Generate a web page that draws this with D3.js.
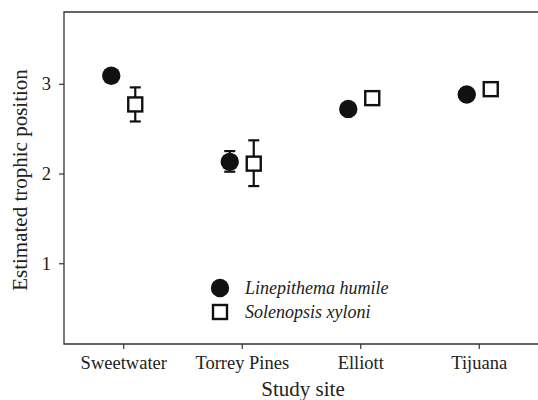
<!DOCTYPE html>
<html>
<head>
<meta charset="utf-8">
<script src="https://cdn.jsdelivr.net/npm/d3@7"></script>
<style>
  body { margin: 0; background: #fff; }
  svg { display: block; font-family: "Liberation Serif", "Times New Roman", serif; }
</style>
</head>
<body>
<svg width="538" height="400"></svg>
<script>
const sites = ["Sweetwater", "Torrey Pines", "Elliott", "Tijuana"];
const species = ["Linepithema humile", "Solenopsis xyloni"];
// mean and error bar ends, per site
const humileMean = [3.09, 2.13, 2.72, 2.88];
const humileLow = [3.09, 2.02, 2.72, 2.88];
const humileHigh = [3.09, 2.25, 2.72, 2.88];
const xyloniMean = [2.77, 2.11, 2.84, 2.94];
const xyloniLow = [2.58, 1.86, 2.84, 2.94];
const xyloniHigh = [2.96, 2.37, 2.84, 2.94];
const yTicks = [1, 2, 3];

const svg = d3.select("svg");
const plotLeft = 64, plotRight = 538, plotTop = 12, plotBottom = 344;

const x = d3.scalePoint().domain(sites).range([plotLeft, plotRight]).padding(0.5);
const y = d3.scaleLinear().domain([0.1, 3.8]).range([plotBottom, plotTop]);
const offset = 12;

// frame (no right border)
svg.append("path")
    .attr("d", `M${plotRight},${plotTop}H${plotLeft}V${plotBottom}H${plotRight}`)
    .attr("fill", "none")
    .attr("stroke", "#333")
    .attr("stroke-width", 1.3);

const xAxis = svg.append("g")
    .attr("transform", `translate(0,${plotBottom})`)
    .call(d3.axisBottom(x).tickSize(5).tickSizeOuter(0).tickPadding(7));
const yAxis = svg.append("g")
    .attr("transform", `translate(${plotLeft},0)`)
    .call(d3.axisLeft(y).tickValues(yTicks).tickFormat(d3.format("d")).tickSize(5).tickSizeOuter(0).tickPadding(8));

for (const g of [xAxis, yAxis]) {
    g.select(".domain").remove();
    g.selectAll("line").attr("stroke", "#333").attr("stroke-width", 1.2);
    g.selectAll("text")
        .attr("fill", "#222")
        .style("font-family", "Liberation Serif, serif")
        .style("font-size", "18.5px");
}

// axis titles
svg.append("text")
    .attr("x", (plotLeft + plotRight) / 2 + 2)
    .attr("y", 396)
    .attr("text-anchor", "middle")
    .attr("fill", "#222")
    .style("font-size", "21px")
    .text("Study site");
svg.append("text")
    .attr("transform", `translate(27,${(plotTop + plotBottom) / 2 + 2}) rotate(-90)`)
    .attr("text-anchor", "middle")
    .attr("fill", "#222")
    .style("font-size", "21px")
    .text("Estimated trophic position");

// error bars
function errorBars(lo, hi, dx) {
    const g = svg.append("g").attr("stroke", "#111").attr("stroke-width", 2.2);
    sites.forEach((s, i) => {
        if (hi[i] - lo[i] < 0.01) return;
        const cx = x(s) + dx;
        g.append("line").attr("x1", cx).attr("x2", cx).attr("y1", y(lo[i])).attr("y2", y(hi[i]));
        g.append("line").attr("x1", cx - 5.5).attr("x2", cx + 5.5).attr("y1", y(lo[i])).attr("y2", y(lo[i]));
        g.append("line").attr("x1", cx - 5.5).attr("x2", cx + 5.5).attr("y1", y(hi[i])).attr("y2", y(hi[i]));
    });
}
errorBars(humileLow, humileHigh, -offset);
errorBars(xyloniLow, xyloniHigh, offset);

// points
svg.append("g").selectAll("circle")
    .data(sites)
    .join("circle")
    .attr("cx", d => x(d) - offset)
    .attr("cy", (d, i) => y(humileMean[i]))
    .attr("r", 9.2)
    .attr("fill", "#111");

const sq = 14;
svg.append("g").selectAll("rect")
    .data(sites)
    .join("rect")
    .attr("x", d => x(d) + offset - sq / 2)
    .attr("y", (d, i) => y(xyloniMean[i]) - sq / 2)
    .attr("width", sq)
    .attr("height", sq)
    .attr("fill", "#fff")
    .attr("stroke", "#111")
    .attr("stroke-width", 2.4);

// legend
const legend = svg.append("g").attr("transform", "translate(220,288)");
legend.append("circle").attr("r", 9.2).attr("fill", "#111");
legend.append("rect")
    .attr("x", -sq / 2).attr("y", 24 - sq / 2)
    .attr("width", sq).attr("height", sq)
    .attr("fill", "#fff").attr("stroke", "#111").attr("stroke-width", 2.4);
legend.selectAll("text")
    .data(species)
    .join("text")
    .attr("x", 25)
    .attr("y", (d, i) => i * 24 + 6)
    .attr("fill", "#222")
    .style("font-style", "italic")
    .style("font-size", "18px")
    .text(d => d);
</script>
</body>
</html>
